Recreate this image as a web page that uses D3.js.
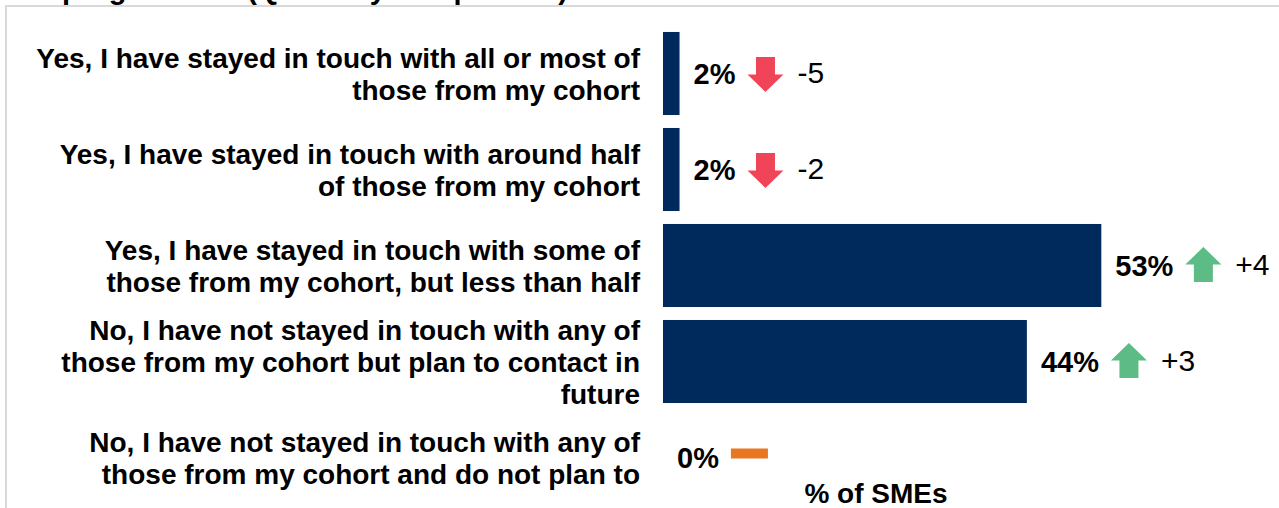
<!DOCTYPE html>
<html>
<head>
<meta charset="utf-8">
<script src="https://cdn.jsdelivr.net/npm/d3@7"></script>
<style>
  html, body { margin: 0; padding: 0; background: #ffffff; }
  svg { display: block; font-family: "Liberation Sans", Arial, sans-serif; }
</style>
</head>
<body>
<svg id="chart" width="1279" height="508"></svg>
<script>
// Response categories (one entry per wrapped line)
const categories = [
  ["Yes, I have stayed in touch with all or most of", "those from my cohort"],
  ["Yes, I have stayed in touch with around half", "of those from my cohort"],
  ["Yes, I have stayed in touch with some of", "those from my cohort, but less than half"],
  ["No, I have not stayed in touch with any of", "those from my cohort but plan to contact in", "future"],
  ["No, I have not stayed in touch with any of", "those from my cohort and do not plan to"]
];
// Share of SMEs (%)
const values = [2, 2, 53, 44, 0];
// Change since previous quarter (percentage points)
const changes = [-5, -2, 4, 3, 0];
const titleText = "the programme? (Quarterly comparison)";
const axisTitle = "% of SMEs";

const svg = d3.select("#chart");
const W = 1279, H = 508;
const FONT = 28;
const LINE = 32;

const colors = { bar: "#002A5C", down: "#F04558", up: "#5DBB85", flat: "#E87722", text: "#000000", frame: "#D9D9D9" };

// Light frame around the chart area
svg.append("path")
  .attr("d", `M6,${H} L6,6 L${W},6`)
  .attr("fill", "none")
  .attr("stroke", colors.frame)
  .attr("stroke-width", 2);

// Title (last line, running off the top edge)
svg.append("text")
  .attr("x", 568)
  .attr("y", -1)
  .attr("text-anchor", "end")
  .attr("font-size", 29)
  .attr("font-weight", "bold")
  .attr("fill", colors.text)
  .text(titleText);

const idx = d3.range(categories.length);

const y = d3.scaleBand()
  .domain(idx)
  .range([25.5, 505.5])
  .paddingInner(0.135)
  .paddingOuter(0.0675);

const x = d3.scaleLinear()
  .domain([0, 60])
  .range([663, 663 + 8.27 * 60]);

// Category labels, right-aligned against the bars
const labels = svg.append("g").attr("font-size", FONT).attr("font-weight", "bold").attr("fill", colors.text);
idx.forEach(i => {
  const lines = categories[i];
  const cy = y(i) + y.bandwidth() / 2;
  const first = cy - (lines.length - 1) * LINE / 2 + 10;
  const t = labels.append("text").attr("text-anchor", "end");
  lines.forEach((ln, k) => {
    t.append("tspan").attr("x", 640).attr("y", first + k * LINE).text(ln);
  });
});

// Bars
svg.append("g").selectAll("rect")
  .data(idx)
  .join("rect")
  .attr("x", x(0))
  .attr("y", i => y(i))
  .attr("width", i => x(values[i]) - x(0))
  .attr("height", y.bandwidth())
  .attr("fill", colors.bar);

// Value labels, change arrows and change figures
idx.forEach(i => {
  const cy = y(i) + y.bandwidth() / 2;
  const lx = x(values[i]) + 14;
  const lbl = svg.append("text")
    .attr("x", lx)
    .attr("y", cy + 10.5)
    .attr("font-size", 29)
    .attr("font-weight", "bold")
    .attr("fill", colors.text)
    .text(values[i] + "%");
  const end = lx + lbl.node().getComputedTextLength();
  const ax = end + 12;
  const c = changes[i];
  const aw = 36, ah = 35, sw = 19, hh = 17.5;
  if (c < 0) {
    const top = cy - ah / 2 + 1;
    const sx = ax + (aw - sw) / 2;
    svg.append("path")
      .attr("d", `M${sx},${top} H${sx + sw} V${top + ah - hh} H${ax + aw} L${ax + aw / 2},${top + ah} L${ax},${top + ah - hh} H${sx} Z`)
      .attr("fill", colors.down);
  } else if (c > 0) {
    const top = cy - ah / 2 - 1;
    const sx = ax + (aw - sw) / 2;
    svg.append("path")
      .attr("d", `M${ax + aw / 2},${top} L${ax + aw},${top + hh} H${sx + sw} V${top + ah} H${sx} V${top + hh} H${ax} Z`)
      .attr("fill", colors.up);
  } else {
    svg.append("rect")
      .attr("x", ax)
      .attr("y", cy - 9)
      .attr("width", 37)
      .attr("height", 10)
      .attr("fill", colors.flat);
  }
  if (c !== 0) {
    svg.append("text")
      .attr("x", ax + aw + 14)
      .attr("y", cy + 9.5)
      .attr("font-size", 30)
      .attr("fill", colors.text)
      .text(c > 0 ? "+" + c : String(c));
  }
});

// Axis title
svg.append("text")
  .attr("x", 876)
  .attr("y", 503)
  .attr("text-anchor", "middle")
  .attr("font-size", FONT)
  .attr("font-weight", "bold")
  .attr("fill", colors.text)
  .text(axisTitle);
</script>
</body>
</html>
